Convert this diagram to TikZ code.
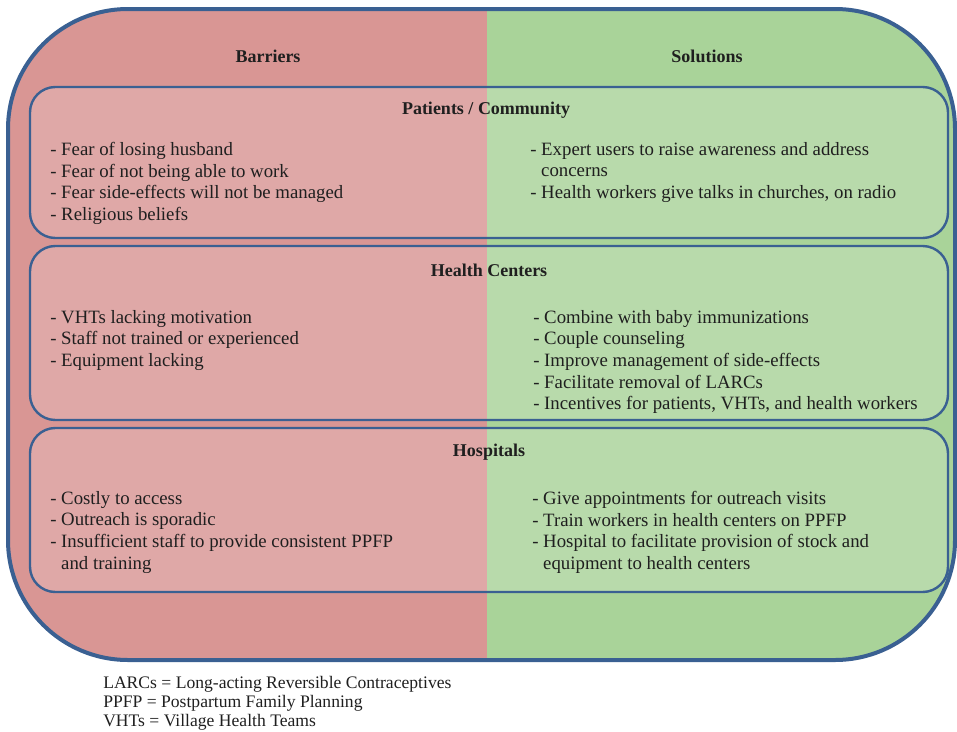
\documentclass[tikz,border=0pt]{standalone}
\usepackage{fontspec}
\setmainfont{Liberation Serif}
\definecolor{barrierred}{RGB}{217,150,148}
\definecolor{solutiongreen}{RGB}{169,211,153}
\definecolor{frameblue}{RGB}{58,96,146}
\newcommand{\hang}{\hphantom{- }}
\begin{document}
\begin{tikzpicture}[x=0.75pt,y=-0.75pt,
	frame/.style={draw=frameblue,line width=3pt,rounded corners=90pt},
	tier/.style={draw=frameblue,line width=1.8pt,rounded corners=19pt,fill=white,fill opacity=0.18},
	head/.style={font=\fontsize{13.5}{16}\selectfont\bfseries,text=black!88},
	items/.style={anchor=north west,align=left,inner sep=0pt,font=\fontsize{14.1}{16.2}\selectfont,text=black!88},
	legend/.style={anchor=north west,align=left,inner sep=0pt,font=\fontsize{13.2}{14.2}\selectfont,text=black!88}]
	\useasboundingbox (0,0) rectangle (957,732);
	% two halves inside the outer frame
	\begin{scope}
		\clip[rounded corners=90pt] (8,9) rectangle (955,660);
		\fill[barrierred] (0,0) rectangle (487,732);
		\fill[solutiongreen] (487,0) rectangle (957,732);
	\end{scope}
	\draw[frame] (8,9) rectangle (955,660);
	% three levels
	\filldraw[tier] (30,87) rectangle (948,238);
	\filldraw[tier] (30,246) rectangle (948,420);
	\filldraw[tier] (30,428) rectangle (948,592);
	\node[head] (barriers) at (268,56) {Barriers};
	\node[head] (solutions) at (707,56) {Solutions};
	\node[head] (patients) at (486,110) {Patients / Community};
	\node[head] (centers) at (489,270) {Health Centers};
	\node[head] (hospitals) at (489,452) {Hospitals};
	% patients / community
	\node[items] (patbar) at (50,142) {- Fear of losing husband\\- Fear of not being able to work\\- Fear side-effects will not be managed\\- Religious beliefs};
	\node[items] (patsol) at (530,142) {- Expert users to raise awareness and address\\\hang concerns\\- Health workers give talks in churches, on radio};
	% health centers
	\node[items] (cenbar) at (50,310) {- VHTs lacking motivation\\- Staff not trained or experienced\\- Equipment lacking};
	\node[items] (censol) at (533,310) {- Combine with baby immunizations\\- Couple counseling\\- Improve management of side-effects\\- Facilitate removal of LARCs\\- Incentives for patients, VHTs, and health workers};
	% hospitals
	\node[items] (hosbar) at (50,491) {- Costly to access\\- Outreach is sporadic\\- Insufficient staff to provide consistent PPFP\\\hang and training};
	\node[items] (hossol) at (532,491) {- Give appointments for outreach visits\\- Train workers in health centers on PPFP\\- Hospital to facilitate provision of stock and\\\hang equipment to health centers};
	% abbreviations
	\node[legend] (abbrev) at (103,676) {LARCs = Long-acting Reversible Contraceptives\\PPFP = Postpartum Family Planning\\VHTs = Village Health Teams};
\end{tikzpicture}
\end{document}
